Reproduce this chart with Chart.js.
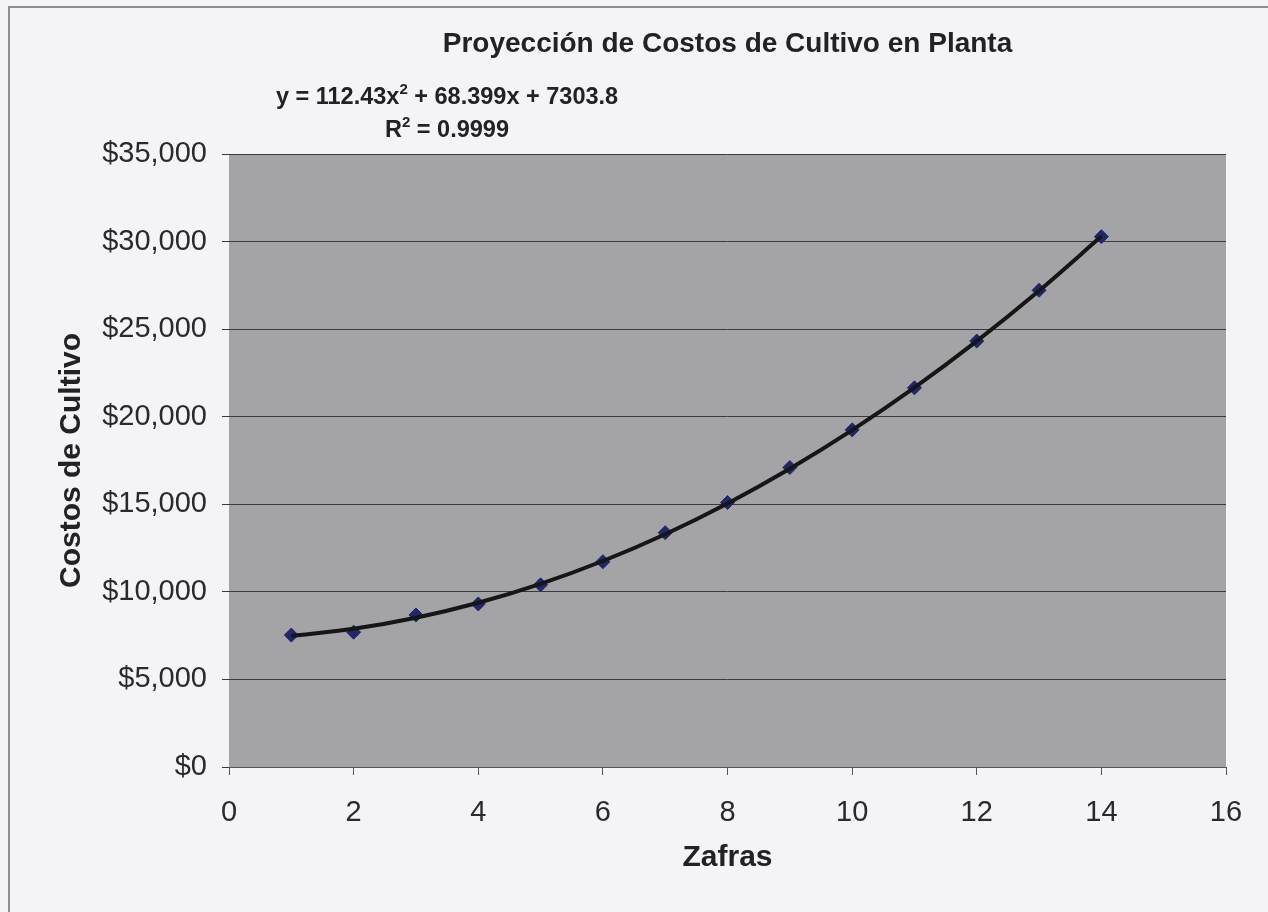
<!DOCTYPE html>
<html>
<head>
<meta charset="utf-8">
<script src="https://cdn.jsdelivr.net/npm/chart.js@4.4.0/dist/chart.umd.min.js"></script>
<style>
  html, body { margin: 0; padding: 0; background: #f4f4f6; }
  #wrap { position: relative; width: 1268px; height: 912px; }
  canvas { display: block; }
</style>
</head>
<body>
<div id="wrap"><canvas id="c" width="1268" height="912"></canvas></div>
<script>
// ---- data ----
const zafras = [1, 2, 3, 4, 5, 6, 7, 8, 9, 10, 11, 12, 13, 14];
const costos = [7530, 7700, 8680, 9310, 10400, 11720, 13380, 15100, 17100, 19250, 21650, 24320, 27220, 30280];
// polynomial trendline shown on the chart: y = a x^2 + b x + c
const trendCoefficients = [112.43, 68.399, 7303.8];
const equationText = ['y = 112.43x', '2', ' + 68.399x + 7303.8'];
const r2Text = ['R', '2', ' = 0.9999'];
const xTicks = [0, 2, 4, 6, 8, 10, 12, 14, 16];
const yTicks = [0, 5000, 10000, 15000, 20000, 25000, 30000, 35000];
const chartTitle = 'Proyección de Costos de Cultivo en Planta';
const xTitle = 'Zafras';
const yTitle = 'Costos de Cultivo';

const FONT = '"Liberation Sans", Arial, Helvetica, sans-serif';

const points = zafras.map((x, i) => ({ x: x, y: costos[i] }));
const trend = zafras.map(x => ({ x: x, y: trendCoefficients[0] * x * x + trendCoefficients[1] * x + trendCoefficients[2] }));

const decor = {
  id: 'decor',
  beforeDraw(chart) {
    const { ctx, chartArea: a } = chart;
    ctx.save();
    ctx.fillStyle = '#f4f4f6';
    ctx.fillRect(0, 0, chart.width, chart.height);
    ctx.strokeStyle = '#8e8e92';
    ctx.lineWidth = 2;
    ctx.strokeRect(9, 7, chart.width + 20, chart.height + 20);
    ctx.fillStyle = '#a4a4a6';
    ctx.fillRect(a.left, a.top, a.right - a.left, a.bottom - a.top);
    ctx.restore();
  },
  afterDraw(chart) {
    const { ctx, chartArea: a } = chart;
    ctx.save();
    ctx.fillStyle = '#222226';
    const drawSup = (parts, cx, cy) => {
      const big = 'bold 23.5px ' + FONT, small = 'bold 15px ' + FONT;
      ctx.font = big; const w0 = ctx.measureText(parts[0]).width;
      const w2 = ctx.measureText(parts[2]).width;
      ctx.font = small; const w1 = ctx.measureText(parts[1]).width;
      let x = cx - (w0 + w1 + w2) / 2;
      ctx.textBaseline = 'middle';
      ctx.textAlign = 'left';
      ctx.font = big; ctx.fillText(parts[0], x, cy); x += w0;
      ctx.font = small; ctx.fillText(parts[1], x, cy - 8); x += w1;
      ctx.font = big; ctx.fillText(parts[2], x, cy);
    };
    const cx = a.left + 218;
    drawSup(equationText, cx, a.top - 56);
    drawSup(r2Text, cx, a.top - 23);
    ctx.restore();
  }
};

new Chart(document.getElementById('c'), {
  type: 'scatter',
  data: {
    datasets: [
      {
        label: 'Tendencia',
        data: trend,
        showLine: true,
        borderColor: '#161616',
        borderWidth: 4,
        pointRadius: 0,
        cubicInterpolationMode: 'monotone',
        order: 0
      },
      {
        label: 'Costos',
        data: points,
        pointStyle: 'rectRot',
        pointRadius: 7,
        pointBackgroundColor: '#22266a',
        pointBorderColor: '#22266a',
        showLine: false,
        order: 1
      }
    ]
  },
  plugins: [decor],
  options: {
    responsive: false,
    animation: false,
    layout: { padding: { left: 0, right: 42, top: 0, bottom: 0 } },
    plugins: {
      legend: { display: false },
      tooltip: { enabled: false },
      title: {
        display: true,
        text: chartTitle,
        fullSize: false,
        color: '#222226',
        font: { family: FONT, size: 28, weight: 'bold', lineHeight: 1.2 },
        padding: { top: 27.2, bottom: 93.2 }
      }
    },
    scales: {
      x: {
        type: 'linear',
        min: 0, max: 16,
        afterBuildTicks(s) { s.ticks = xTicks.map(v => ({ value: v })); },
        afterFit(s) { s.height = 145; },
        grid: { drawOnChartArea: false, drawTicks: true, tickLength: 8, color: '#555558', lineWidth: 1 },
        border: { display: true, color: '#555558', width: 1 },
        ticks: { padding: 20.6, color: '#2a2a2e', font: { family: FONT, size: 29 } },
        title: {
          display: true, text: xTitle, color: '#222226',
          font: { family: FONT, size: 30, weight: 'bold', lineHeight: 1.2 },
          padding: { top: 0, bottom: 36 }
        }
      },
      y: {
        type: 'linear',
        min: 0, max: 35000,
        afterBuildTicks(s) { s.ticks = yTicks.map(v => ({ value: v })); },
        afterFit(s) { s.width = 229; },
        grid: { drawOnChartArea: true, drawTicks: true, tickLength: 7, color: '#3a3a3e', lineWidth: 1 },
        border: { display: false },
        ticks: {
          padding: 15, color: '#2a2a2e', font: { family: FONT, size: 29 },
          callback: v => '$' + Number(v).toLocaleString('en-US')
        },
        title: {
          display: true, text: yTitle, color: '#222226',
          font: { family: FONT, size: 30, weight: 'bold', lineHeight: 1.2 },
          padding: { top: 54, bottom: 0 }
        }
      }
    }
  }
});
</script>
</body>
</html>
